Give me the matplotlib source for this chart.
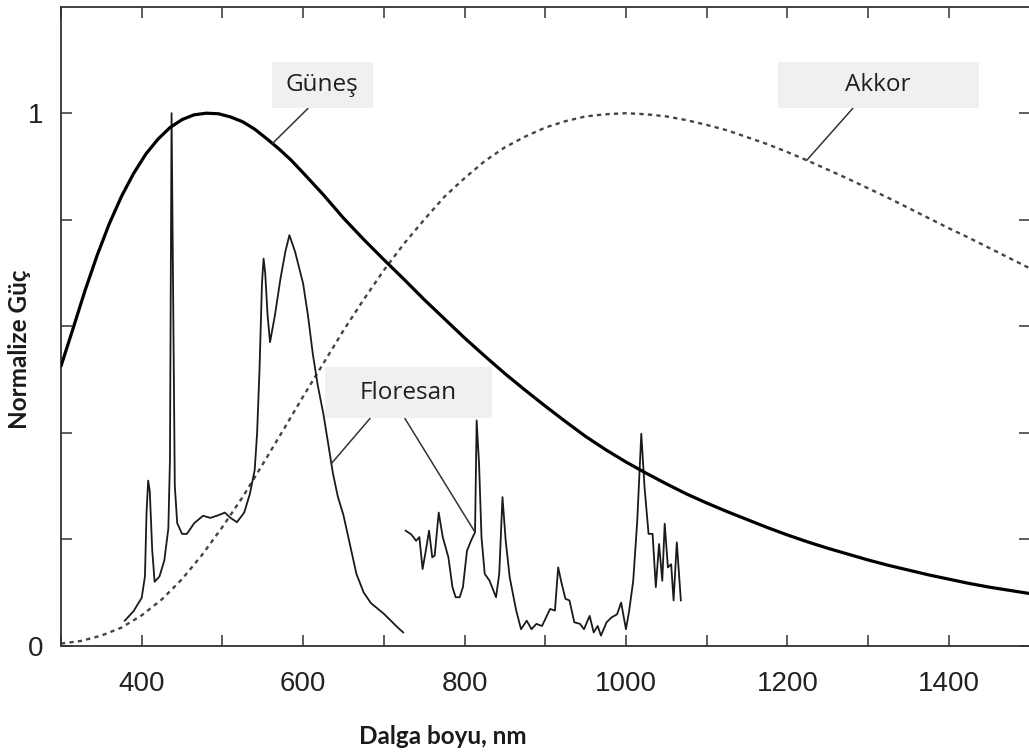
import numpy as np
import matplotlib.pyplot as plt
from matplotlib.patches import Rectangle

# values (wavelength in nm, normalized power)
sun_nm = [300, 315, 330, 345, 360, 375, 390, 405, 420, 435, 450, 465, 480, 495, 510, 525, 540, 555, 570, 585,
          600, 625, 650, 675, 700, 725, 750, 775, 800, 825, 850, 875, 900, 925, 950, 975, 1000, 1025, 1050,
          1075, 1100, 1125, 1150, 1175, 1200, 1225, 1250, 1275, 1300, 1325, 1350, 1375, 1400, 1425, 1450, 1475, 1500]
sun_val = [0.525, 0.596, 0.668, 0.734, 0.793, 0.844, 0.887, 0.923, 0.951, 0.973, 0.988, 0.997, 1.0, 0.999, 0.993,
           0.984, 0.970, 0.952, 0.933, 0.912, 0.888, 0.847, 0.803, 0.763, 0.725, 0.688, 0.65, 0.614, 0.578, 0.544,
           0.511, 0.48, 0.45, 0.421, 0.393, 0.368, 0.345, 0.324, 0.304, 0.285, 0.268, 0.252, 0.237, 0.222, 0.208,
           0.195, 0.183, 0.172, 0.161, 0.151, 0.142, 0.133, 0.125, 0.117, 0.110, 0.104, 0.098]

akkor_nm = list(range(300, 1501, 25))
akkor_val = [0.004, 0.009, 0.019, 0.034, 0.057, 0.087, 0.125, 0.171, 0.223, 0.279, 0.341, 0.404, 0.468, 0.530,
             0.592, 0.650, 0.705, 0.755, 0.800, 0.843, 0.878, 0.910, 0.936, 0.956, 0.973, 0.985, 0.994, 0.998,
             1.0, 0.998, 0.994, 0.987, 0.978, 0.968, 0.955, 0.942, 0.927, 0.911, 0.894, 0.877, 0.859, 0.841,
             0.822, 0.803, 0.784, 0.766, 0.747, 0.728, 0.709]

fl1_nm = [379, 390, 400, 404, 406, 408, 410, 413, 416, 422, 428, 433, 435, 437, 439, 441, 444, 450, 456,
          465, 476, 485, 495, 503, 510, 518, 527, 534, 540, 543, 546, 549, 551, 553, 556, 559, 565, 572,
          578, 583, 590, 600, 606, 612, 618, 625, 631, 637, 643, 650, 658, 666, 675, 684, 692, 700, 710, 718, 724]
fl1_val = [0.047, 0.065, 0.09, 0.13, 0.25, 0.31, 0.29, 0.18, 0.12, 0.13, 0.16, 0.22, 0.35, 1.0, 0.65, 0.30, 0.23, 0.21, 0.21,
           0.23, 0.244, 0.24, 0.245, 0.25, 0.24, 0.232, 0.25, 0.285, 0.33, 0.40, 0.52, 0.68, 0.727, 0.70, 0.62, 0.57, 0.62, 0.69,
           0.74, 0.771, 0.74, 0.68, 0.62, 0.548, 0.49, 0.436, 0.38, 0.323, 0.28, 0.245, 0.19, 0.135, 0.10, 0.08, 0.07, 0.06, 0.045, 0.033, 0.025]

fl2_nm = [727, 734, 740, 744, 748, 752, 756, 760, 763, 768, 773, 780, 785, 789, 794, 798, 803, 808, 813, 815,
          818, 821, 825, 831, 839, 843, 847, 851, 856, 864, 870, 877, 883, 889, 896, 901, 906, 912, 916, 920,
          925, 930, 936, 943, 948, 955, 960, 965, 969, 976, 982, 989, 994, 1000, 1004, 1009, 1014, 1019, 1023,
          1028, 1033, 1037, 1041, 1045, 1048, 1052, 1056, 1059, 1063, 1068]
fl2_val = [0.216, 0.209, 0.197, 0.204, 0.144, 0.178, 0.216, 0.166, 0.169, 0.25, 0.204, 0.166, 0.11, 0.091, 0.091, 0.11, 0.178, 0.197, 0.213, 0.423,
           0.341, 0.204, 0.135, 0.122, 0.091, 0.135, 0.279, 0.197, 0.128, 0.066, 0.031, 0.047, 0.031, 0.041, 0.037, 0.053, 0.069, 0.066, 0.147, 0.119,
           0.088, 0.085, 0.044, 0.041, 0.031, 0.056, 0.025, 0.037, 0.019, 0.044, 0.053, 0.059, 0.081, 0.031, 0.066, 0.122, 0.235, 0.398, 0.298,
           0.21, 0.21, 0.11, 0.191, 0.122, 0.229, 0.147, 0.153, 0.085, 0.194, 0.085]

x_ticks = [400, 600, 800, 1000, 1200, 1400]
y_ticks = [0, 1]
y_ticklabels = ['0', '1']

W, H = 1029, 755
fig = plt.figure(figsize=(W / 100, H / 100), dpi=100)
ax = fig.add_axes([61 / W, 109.3 / H, (1029.5 - 61) / W, 639 / H])

ax.plot(sun_nm, sun_val, color='black', lw=2.3, solid_capstyle='round', solid_joinstyle='round', zorder=3)
ax.plot(akkor_nm, akkor_val, color='#444444', lw=1.7, ls=(0, (1.8, 1.8)), zorder=2)
ax.plot(fl1_nm, fl1_val, color='#1a1a1a', lw=1.3, solid_joinstyle='round', zorder=2)
ax.plot(fl2_nm, fl2_val, color='#1a1a1a', lw=1.3, solid_joinstyle='round', zorder=2)

ax.set_xlim(300, 1500)
ax.set_ylim(0, 1.2)
ax.set_xticks(x_ticks)
ax.set_xticks(range(300, 1501, 100), minor=True)
ax.set_yticks(y_ticks)
ax.set_yticklabels(y_ticklabels)
ax.set_yticks([0.2, 0.4, 0.6, 0.8], minor=True)
ax.tick_params(which='both', direction='in', top=True, right=True, length=8, width=1.1, color='#333333')
ax.tick_params(axis='x', pad=18, labelsize=20, labelcolor='#222222')
ax.tick_params(axis='y', pad=13, labelsize=20, labelcolor='#222222')
for lab in ax.get_xticklabels() + ax.get_yticklabels():
    lab.set_fontfamily('Liberation Sans')
for sp in ax.spines.values():
    sp.set_color('#333333')
    sp.set_linewidth(1.3)

# label boxes (x0, y0, width, height in data units)
boxes = [('Güneş', 561, 1.009, 125, 0.087),
         ('Akkor', 1188, 1.009, 249, 0.087),
         ('Floresan', 627, 0.427, 207, 0.096)]
for txt, x0, y0, w, h in boxes:
    ax.add_patch(Rectangle((x0, y0), w, h, facecolor='#f0f0f0', edgecolor='none', zorder=4))
    ax.text(x0 + w / 2, y0 + h / 2, txt, ha='center', va='center', fontsize=17.5,
            family='Open Sans', color='#1f1f1f', zorder=5)

lp = dict(arrowstyle='-', color='#333333', lw=1.1, shrinkA=0, shrinkB=0)
ax.annotate('', xy=(562, np.interp(562, sun_nm, sun_val)), xytext=(606, 1.009), arrowprops=lp)
ax.annotate('', xy=(1224, np.interp(1224, akkor_nm, akkor_val)), xytext=(1281, 1.009), arrowprops=lp)
ax.annotate('', xy=(635, np.interp(635, fl1_nm, fl1_val)), xytext=(683, 0.427), arrowprops=lp)
ax.annotate('', xy=(813, np.interp(813, fl2_nm, fl2_val)), xytext=(726, 0.427), arrowprops=lp)

fig.text(443 / W, 1 - 737 / H, 'Dalga boyu, nm', ha='center', va='center', fontsize=17.5,
         fontweight='bold', family='Lato', color='#1a1a1a')
fig.text(20 / W, 1 - 349 / H, 'Normalize Güç', ha='center', va='center', rotation=90, fontsize=17.5,
         fontweight='bold', family='Lato', color='#1a1a1a')

fig.savefig('out.png', dpi=100)
